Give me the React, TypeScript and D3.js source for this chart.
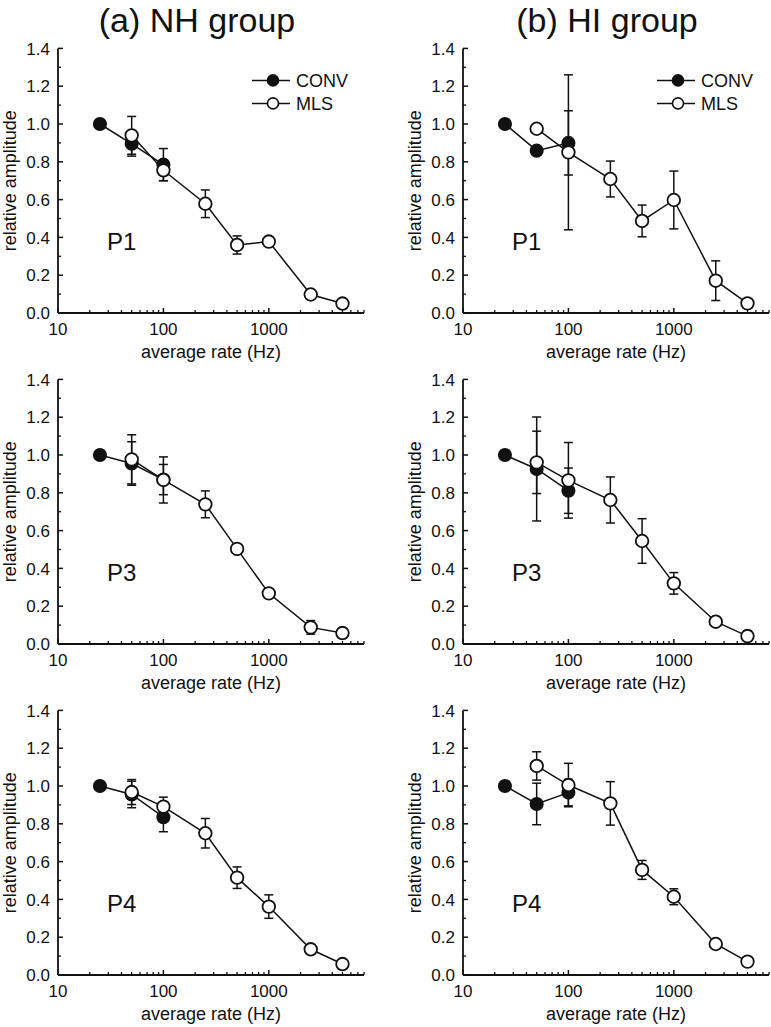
import React from "react";
import * as d3 from "d3";

// ---- data ----
const convRates = [25, 50, 100];
const mlsRates = [50, 100, 250, 500, 1000, 2500, 5000];
const xTickLabels = [10, 100, 1000];
const yTickValues = [0, 0.2, 0.4, 0.6, 0.8, 1.0, 1.2, 1.4];
const columnTitles = ["(a) NH group", "(b) HI group"];
const rowLabels = ["P1", "P3", "P4"];
const seriesNames = ["CONV", "MLS"];

// NH group
const nhP1Conv = [1.0, 0.895, 0.785];
const nhP1ConvErr = [0, 0.065, 0.085];
const nhP1Mls = [0.94, 0.755, 0.578, 0.36, 0.378, 0.098, 0.05];
const nhP1MlsErr = [0.1, 0.055, 0.073, 0.048, 0.01, 0.01, 0.01];

const nhP3Conv = [1.0, 0.955, 0.87];
const nhP3ConvErr = [0, 0.115, 0.08];
const nhP3Mls = [0.977, 0.868, 0.739, 0.503, 0.268, 0.088, 0.058];
const nhP3MlsErr = [0.13, 0.122, 0.071, 0.02, 0.02, 0.036, 0.01];

const nhP4Conv = [1.0, 0.955, 0.835];
const nhP4ConvErr = [0, 0.07, 0.077];
const nhP4Mls = [0.968, 0.891, 0.75, 0.515, 0.362, 0.136, 0.058];
const nhP4MlsErr = [0.066, 0.05, 0.078, 0.057, 0.062, 0.01, 0.01];

// HI group
const hiP1Conv = [1.0, 0.859, 0.9];
const hiP1ConvErr = [0, 0.015, 0.17];
const hiP1Mls = [0.975, 0.85, 0.709, 0.487, 0.598, 0.171, 0.051];
const hiP1MlsErr = [0.005, 0.41, 0.095, 0.084, 0.153, 0.105, 0.01];

const hiP3Conv = [1.0, 0.926, 0.811];
const hiP3ConvErr = [0, 0.275, 0.12];
const hiP3Mls = [0.961, 0.866, 0.762, 0.545, 0.321, 0.118, 0.042];
const hiP3MlsErr = [0.165, 0.2, 0.122, 0.118, 0.057, 0.01, 0.028];

const hiP4Conv = [1.0, 0.905, 0.965];
const hiP4ConvErr = [0, 0.11, 0.07];
const hiP4Mls = [1.106, 1.005, 0.908, 0.556, 0.414, 0.164, 0.071];
const hiP4MlsErr = [0.075, 0.115, 0.115, 0.05, 0.042, 0.01, 0.01];

const panels = [
  [
    { conv: nhP1Conv, convErr: nhP1ConvErr, mls: nhP1Mls, mlsErr: nhP1MlsErr },
    { conv: hiP1Conv, convErr: hiP1ConvErr, mls: hiP1Mls, mlsErr: hiP1MlsErr },
  ],
  [
    { conv: nhP3Conv, convErr: nhP3ConvErr, mls: nhP3Mls, mlsErr: nhP3MlsErr },
    { conv: hiP3Conv, convErr: hiP3ConvErr, mls: hiP3Mls, mlsErr: hiP3MlsErr },
  ],
  [
    { conv: nhP4Conv, convErr: nhP4ConvErr, mls: nhP4Mls, mlsErr: nhP4MlsErr },
    { conv: hiP4Conv, convErr: hiP4ConvErr, mls: hiP4Mls, mlsErr: hiP4MlsErr },
  ],
];

// ---- layout ----
const W = 771;
const H = 1027;
const colX = [58, 463];
const rowY = [313, 644, 975];
const plotW = 306;
const plotH = 264.6;
const FONT = "'Liberation Sans', Arial, Helvetica, sans-serif";
const INK = "#111";

const x = d3.scaleLog().domain([10, 8000]).range([0, plotW]);
const y = d3.scaleLinear().domain([0, 1.4]).range([plotH, 0]);

const minorX: number[] = [];
[10, 100, 1000].forEach((dec) => {
  for (let k = 2; k <= 9; k++) {
    const v = dec * k;
    if (v <= 8000) minorX.push(v);
  }
});
const minorY = d3.range(0.1, 1.4, 0.2);

function Panel({ data, ox, oy, label, legend }: any) {
  const top = oy - plotH;
  const line = d3
    .line<[number, number]>()
    .x((d) => x(d[0]))
    .y((d) => y(d[1]));
  const convPts: [number, number][] = convRates.map((r, i) => [r, data.conv[i]]);
  const mlsPts: [number, number][] = mlsRates.map((r, i) => [r, data.mls[i]]);
  const cap = 4.5;
  const errBars = (rates: number[], vals: number[], errs: number[], key: string) =>
    rates.map((r, i) => {
      const e = errs[i];
      if (!e) return null;
      const cx = x(r);
      const y1 = y(vals[i] + e);
      const y2 = y(vals[i] - e);
      return (
        <g key={key + i} stroke={INK} strokeWidth={1.5}>
          <line x1={cx} x2={cx} y1={y1} y2={y2} />
          <line x1={cx - cap} x2={cx + cap} y1={y1} y2={y1} />
          <line x1={cx - cap} x2={cx + cap} y1={y2} y2={y2} />
        </g>
      );
    });
  return (
    <g transform={`translate(${ox},${top})`}>
      {/* axes */}
      <line x1={0} x2={0} y1={0} y2={plotH} stroke={INK} strokeWidth={1.8} />
      <line x1={0} x2={plotW} y1={plotH} y2={plotH} stroke={INK} strokeWidth={1.8} />
      {yTickValues.map((v) => (
        <g key={"yt" + v}>
          <line x1={0} x2={5} y1={y(v)} y2={y(v)} stroke={INK} strokeWidth={1.5} />
          <text
            x={-8}
            y={y(v)}
            dy="0.36em"
            textAnchor="end"
            fontSize={17}
            fontFamily={FONT}
            fill={INK}
          >
            {d3.format(".1f")(v)}
          </text>
        </g>
      ))}
      {minorY.map((v) => (
        <line key={"ym" + v} x1={0} x2={3} y1={y(v)} y2={y(v)} stroke={INK} strokeWidth={1.3} />
      ))}
      {xTickLabels.map((v) => (
        <g key={"xt" + v}>
          <line x1={x(v)} x2={x(v)} y1={plotH} y2={plotH - 5} stroke={INK} strokeWidth={1.5} />
          <text
            x={x(v)}
            y={plotH + 22}
            textAnchor="middle"
            fontSize={17}
            fontFamily={FONT}
            fill={INK}
          >
            {v}
          </text>
        </g>
      ))}
      {minorX.map((v) => (
        <line key={"xm" + v} x1={x(v)} x2={x(v)} y1={plotH} y2={plotH - 3} stroke={INK} strokeWidth={1.3} />
      ))}
      <text
        x={plotW / 2}
        y={plotH + 45}
        textAnchor="middle"
        fontSize={18}
        fontFamily={FONT}
        fill={INK}
      >
        average rate (Hz)
      </text>
      <text
        transform={`translate(${-42},${plotH / 2}) rotate(-90)`}
        textAnchor="middle"
        fontSize={18}
        fontFamily={FONT}
        fill={INK}
      >
        relative amplitude
      </text>
      <text x={49} y={plotH - 63} fontSize={24} fontFamily={FONT} fill={INK}>
        {label}
      </text>
      {/* lines */}
      <path d={line(convPts) || ""} fill="none" stroke={INK} strokeWidth={1.5} />
      <path d={line(mlsPts) || ""} fill="none" stroke={INK} strokeWidth={1.5} />
      {errBars(convRates, data.conv, data.convErr, "ce")}
      {errBars(mlsRates, data.mls, data.mlsErr, "me")}
      {convPts.map((p, i) => (
        <circle key={"cp" + i} cx={x(p[0])} cy={y(p[1])} r={6.3} fill={INK} stroke={INK} strokeWidth={1.5} />
      ))}
      {mlsPts.map((p, i) => (
        <circle key={"mp" + i} cx={x(p[0])} cy={y(p[1])} r={6.3} fill="#fff" stroke={INK} strokeWidth={1.8} />
      ))}
      {legend && (
        <g>
          {seriesNames.map((name, i) => {
            const ly = y(1.4) + 32 + i * 23;
            return (
              <g key={name}>
                <line x1={194} x2={232} y1={ly} y2={ly} stroke={INK} strokeWidth={1.5} />
                <circle
                  cx={215}
                  cy={ly}
                  r={5.5}
                  fill={i === 0 ? INK : "#fff"}
                  stroke={INK}
                  strokeWidth={1.6}
                />
                <text x={238} y={ly} dy="0.36em" fontSize={18} fontFamily={FONT} fill={INK}>
                  {name}
                </text>
              </g>
            );
          })}
        </g>
      )}
    </g>
  );
}

export default function App() {
  return (
    <svg
      width={W}
      height={H}
      style={{ position: "absolute", left: 0, top: 0, background: "#fff" }}
    >
      <rect x={0} y={0} width={W} height={H} fill="#fff" />
      {columnTitles.map((t, c) => (
        <text
          key={t}
          x={c === 0 ? 197 : 607}
          y={32}
          textAnchor="middle"
          fontSize={34}
          fontFamily={FONT}
          fill={INK}
        >
          {t}
        </text>
      ))}
      {panels.map((row, r) =>
        row.map((data, c) => (
          <Panel
            key={`${r}-${c}`}
            data={data}
            ox={colX[c]}
            oy={rowY[r]}
            label={rowLabels[r]}
            legend={r === 0}
          />
        ))
      )}
    </svg>
  );
}
